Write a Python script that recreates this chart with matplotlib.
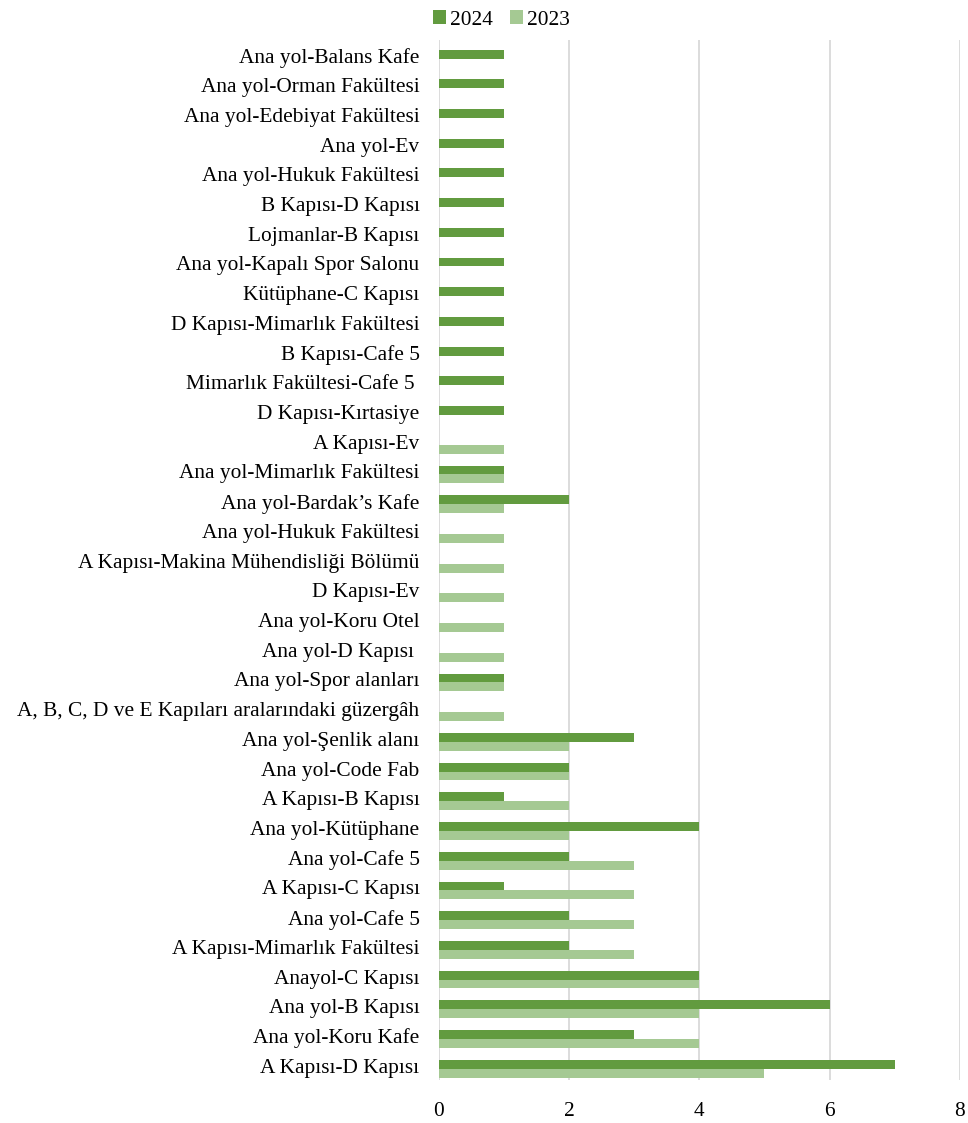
import numpy as np
from matplotlib import pyplot as plt
from matplotlib import transforms

# Kategoriler (alttan üste)
routes = [
    "A Kapısı-D Kapısı",
    "Ana yol-Koru Kafe",
    "Ana yol-B Kapısı",
    "Anayol-C Kapısı",
    "A Kapısı-Mimarlık Fakültesi",
    "Ana yol-Cafe 5",
    "A Kapısı-C Kapısı",
    "Ana yol-Cafe 5",
    "Ana yol-Kütüphane",
    "A Kapısı-B Kapısı",
    "Ana yol-Code Fab",
    "Ana yol-Şenlik alanı",
    "A, B, C, D ve E Kapıları aralarındaki güzergâh",
    "Ana yol-Spor alanları",
    "Ana yol-D Kapısı ",
    "Ana yol-Koru Otel",
    "D Kapısı-Ev",
    "A Kapısı-Makina Mühendisliği Bölümü",
    "Ana yol-Hukuk Fakültesi",
    "Ana yol-Bardak’s Kafe",
    "Ana yol-Mimarlık Fakültesi",
    "A Kapısı-Ev",
    "D Kapısı-Kırtasiye",
    "Mimarlık Fakültesi-Cafe 5 ",
    "B Kapısı-Cafe 5",
    "D Kapısı-Mimarlık Fakültesi",
    "Kütüphane-C Kapısı",
    "Ana yol-Kapalı Spor Salonu",
    "Lojmanlar-B Kapısı",
    "B Kapısı-D Kapısı",
    "Ana yol-Hukuk Fakültesi",
    "Ana yol-Ev",
    "Ana yol-Edebiyat Fakültesi",
    "Ana yol-Orman Fakültesi",
    "Ana yol-Balans Kafe",
]

values_2024 = [7, 3, 6, 4, 2, 2, 1, 2, 4, 1, 2, 3, 0, 1, 0, 0, 0, 0, 0, 2, 1, 0,
               1, 1, 1, 1, 1, 1, 1, 1, 1, 1, 1, 1, 1]
values_2023 = [5, 4, 4, 4, 3, 3, 3, 3, 2, 2, 2, 2, 1, 1, 1, 1, 1, 1, 1, 1, 1, 1,
               0, 0, 0, 0, 0, 0, 0, 0, 0, 0, 0, 0, 0]

plt.rcParams['font.family'] = ['Liberation Serif', 'DejaVu Serif']

fig = plt.figure(figsize=(9.68, 11.23), dpi=100)
ax = fig.add_axes([0.4535, 0.0383, 0.538, 0.926])

y = np.arange(len(routes))
h = 0.3
ax.barh(y + h / 2, values_2024, height=h, color="#629B3F", label="2024", zorder=3)
ax.barh(y - h / 2, values_2023, height=h, color="#A5C993", label="2023", zorder=3)

ax.set_yticks(y)
ax.set_yticklabels(routes, fontsize=15.4)
ax.set_ylim(-0.38, len(routes) - 0.38)
ax.set_xlim(0, 8)
ax.set_xticks([0, 2, 4, 6, 8])
ax.tick_params(axis='y', length=0, pad=14)
ax.tick_params(axis='x', length=0, pad=16, labelsize=15.4)
ax.grid(axis='x', color="#D9D9D9", linewidth=1.3, zorder=0)
for s in ax.spines.values():
    s.set_visible(False)

# etiketleri biraz yukarı al
shift = transforms.ScaledTranslation(0, 3 / 100, fig.dpi_scale_trans)
for lbl in ax.get_yticklabels():
    lbl.set_transform(lbl.get_transform() + shift)

ax.legend(loc='upper center', bbox_to_anchor=(0.12, 1.047), ncol=2, frameon=False,
          fontsize=15.4, handlelength=0.6, handleheight=0.6, handletextpad=0.2,
          columnspacing=0.8)

plt.savefig("out.png")
